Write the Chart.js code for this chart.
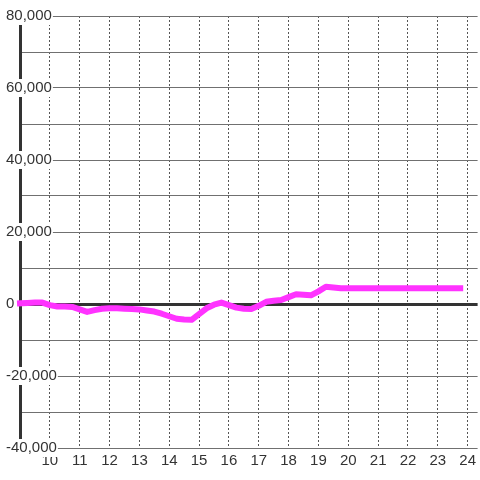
<!DOCTYPE html>
<html>
<head>
<meta charset="utf-8">
<script src="https://cdn.jsdelivr.net/npm/chart.js@4/dist/chart.umd.min.js"></script>
<style>
  body { margin: 0; background: #fff; }
</style>
</head>
<body>
<canvas id="lijnChart" width="480" height="480"></canvas>
<script>
// Data (uur van de dag, waarde)
var uren = [9, 9.25, 9.5, 9.75, 10, 10.25, 10.5, 10.75, 11, 11.25, 11.5, 11.75,
    12, 12.25, 12.5, 12.75, 13, 13.25, 13.5, 13.75, 14, 14.25, 14.5, 14.75,
    15, 15.25, 15.5, 15.75, 16, 16.25, 16.5, 16.75, 17, 17.25, 17.5, 17.75,
    18, 18.25, 18.5, 18.75, 19, 19.25, 19.5, 19.75, 20, 21, 22, 23, 23.75];
var waarden = [200, 300, 400, 400, -300, -700, -700, -800, -1500, -2200, -1700, -1300,
    -1200, -1200, -1300, -1400, -1500, -1800, -2100, -2700, -3400, -4100, -4300, -4400,
    -2800, -1200, -200, 400, -300, -1000, -1300, -1400, -500, 600, 900, 1100,
    1900, 2700, 2600, 2400, 3500, 4800, 4600, 4400, 4400, 4400, 4400, 4400, 4400];

var xTickLabels = [10, 11, 12, 13, 14, 15, 16, 17, 18, 19, 20, 21, 22, 23, 24];
var yTickLabels = [-40000, -20000, 0, 20000, 40000, 60000, 80000];

var lettertype = { family: 'Liberation Sans', size: 15 };

var lijnChart;
function tekenLijnGrafiek() {
    var ctx = document.getElementById('lijnChart').getContext('2d');
    lijnChart = new Chart(ctx, {
        type: 'line',
        data: {
            datasets: [{
                data: uren.map(function (u, i) { return { x: u, y: waarden[i] }; }),
                borderColor: '#ff33ff',
                borderWidth: 6,
                borderCapStyle: 'square',
                borderJoinStyle: 'round',
                pointRadius: 0,
                tension: 0,
                clip: false
            }]
        },
        options: {
            responsive: false,
            animation: false,
            layout: { padding: { top: 16, left: 0, right: 0, bottom: 0 } },
            plugins: { legend: { display: false }, tooltip: { enabled: false } },
            scales: {
                x: {
                    type: 'linear',
                    min: 9,
                    max: 24 + 1 / 3,
                    afterBuildTicks: function (as) {
                        as.ticks = xTickLabels.map(function (v) { return { value: v }; });
                    },
                    afterFit: function (s) { s.height = 32; },
                    grid: { color: '#555', lineWidth: 1, drawTicks: false },
                    border: { display: false, dash: [2, 2] },
                    ticks: {
                        color: '#333',
                        font: lettertype,
                        padding: 4,
                        maxRotation: 0,
                        autoSkip: false,
                        callback: function (v) { return String(v); }
                    }
                },
                y: {
                    min: -40000,
                    max: 80000,
                    afterFit: function (s) { s.width = 20; },
                    grid: {
                        color: function (c) { return c.tick && c.tick.value === 0 ? '#333' : '#707070'; },
                        lineWidth: function (c) { return c.tick && c.tick.value === 0 ? 3 : 1; },
                        drawTicks: false
                    },
                    border: { display: true, color: '#333', width: 3 },
                    ticks: {
                        stepSize: 10000,
                        mirror: true,
                        crossAlign: 'near',
                        padding: -14,
                        color: '#333',
                        font: lettertype,
                        showLabelBackdrop: true,
                        backdropColor: function (c) {
                            return yTickLabels.indexOf(c.tick.value) >= 0 ? '#fff' : 'rgba(0,0,0,0)';
                        },
                        backdropPadding: { left: 1, right: 1, top: 0, bottom: 0 },
                        callback: function (v) {
                            return yTickLabels.indexOf(v) >= 0 ? v.toLocaleString('en-US') : '';
                        }
                    }
                }
            }
        }
    });
}

tekenLijnGrafiek();
</script>
</body>
</html>
